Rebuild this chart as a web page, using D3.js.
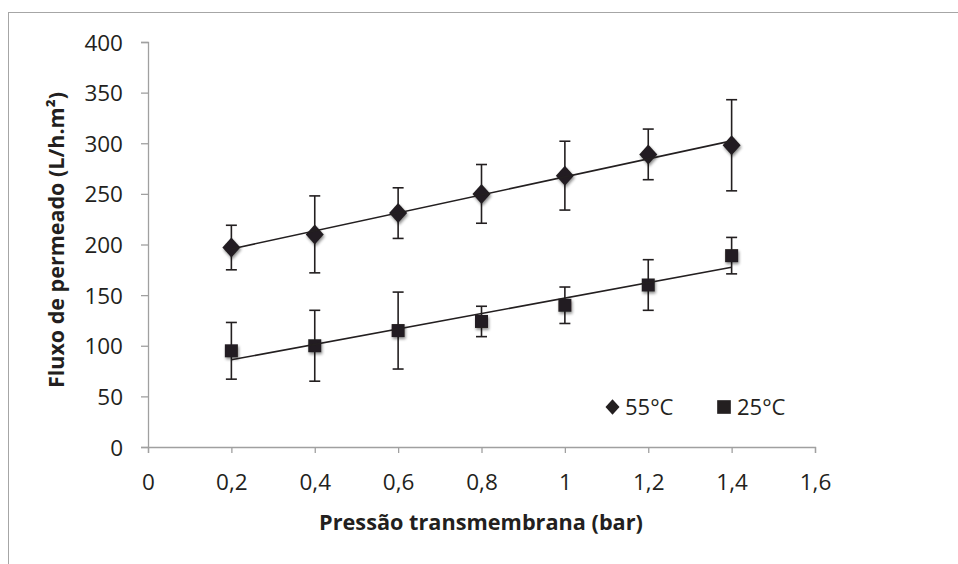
<!DOCTYPE html>
<html><head><meta charset="utf-8">
<script src="https://cdn.jsdelivr.net/npm/d3@7"></script>
<style>
html,body{margin:0;padding:0;background:#fff;}
svg{display:block;}
text{font-family:"Open Sans",sans-serif;fill:#231f20;}
</style></head>
<body>
<svg id="chart" width="958" height="564"></svg>
<script>
const pressures = [0.2, 0.4, 0.6, 0.8, 1.0, 1.2, 1.4];
const flux55 = [197, 210, 231, 250, 268, 289, 298];
const err55 = [22, 38, 25, 29, 34, 25, 45];
const flux25 = [95, 100, 115, 124, 140, 160, 189];
const err25 = [28, 35, 38, 15, 18, 25, 18];
const xTicks = [0, 0.2, 0.4, 0.6, 0.8, 1.0, 1.2, 1.4, 1.6];
const yTicks = [0, 50, 100, 150, 200, 250, 300, 350, 400];
const seriesNames = ["55°C", "25°C"];

const svg = d3.select("#chart");
const ink = "#231f20";
const axisColor = "#a0a0a0";

// outer frame (top and left visible)
svg.append("rect").attr("x", 8.5).attr("y", 12.5).attr("width", 1000).attr("height", 1000)
  .attr("fill", "none").attr("stroke", "#a6a6a6").attr("stroke-width", 1);

const defs = svg.append("defs");
const f = defs.append("filter").attr("id", "sh").attr("x", "-50%").attr("y", "-50%").attr("width", "200%").attr("height", "200%");
f.append("feGaussianBlur").attr("in", "SourceAlpha").attr("stdDeviation", 1.6).attr("result", "b");
f.append("feOffset").attr("in", "b").attr("dx", 1).attr("dy", 1.5).attr("result", "o");
f.append("feComponentTransfer").attr("in", "o").attr("result", "o2")
  .append("feFuncA").attr("type", "linear").attr("slope", 0.45);
const m = f.append("feMerge");
m.append("feMergeNode").attr("in", "o2");
m.append("feMergeNode").attr("in", "SourceGraphic");

const x = d3.scaleLinear().domain([0, 1.6]).range([148, 815]);
const y = d3.scaleLinear().domain([0, 400]).range([447, 42]);

const fmt = d => String(+d.toFixed(1)).replace(".", ",");

// axes
const gx = svg.append("g").attr("transform", `translate(0,${y(0)})`)
  .call(d3.axisBottom(x).tickValues(xTicks).tickSize(6).tickPadding(21).tickFormat(fmt));
const gy = svg.append("g").attr("transform", `translate(${x(0)},0)`)
  .call(d3.axisLeft(y).tickValues(yTicks).tickSize(7).tickPadding(18).tickFormat(d3.format("d")));
[gx, gy].forEach(g => {
  g.select(".domain").attr("stroke", axisColor).attr("stroke-width", 1.3);
  g.selectAll(".tick line").attr("stroke", axisColor).attr("stroke-width", 1.3);
  g.selectAll(".tick text").attr("font-family", "Open Sans").attr("font-size", 22.5).attr("fill", ink);
});
gy.selectAll(".tick text").attr("dy", "0.36em");

// axis titles
svg.append("text").attr("x", 481).attr("y", 530).attr("text-anchor", "middle")
  .attr("font-size", 21.7).attr("font-weight", "bold").text("Pressão transmembrana (bar)");
svg.append("text").attr("transform", "translate(64,240) rotate(-90)").attr("text-anchor", "middle")
  .attr("font-size", 21.5).attr("font-weight", "bold").text("Fluxo de permeado (L/h.m²)");

function fit(vals) {
  const mx = d3.mean(pressures), my = d3.mean(vals);
  let num = 0, den = 0;
  pressures.forEach((p, i) => { num += (p - mx) * (vals[i] - my); den += (p - mx) ** 2; });
  const b = num / den, a = my - b * mx;
  return p => a + b * p;
}

const series = [
  {name: seriesNames[0], vals: flux55, errs: err55, shape: "diamond"},
  {name: seriesNames[1], vals: flux25, errs: err25, shape: "square"}
];

function marker(g, shape, cx, cy, scale) {
  if (shape === "diamond") {
    const w = 9 * scale, h = 10 * scale;
    g.append("path").attr("d", `M${cx},${cy - h}L${cx + w},${cy}L${cx},${cy + h}L${cx - w},${cy}Z`).attr("fill", ink);
  } else {
    const s = 13 * scale;
    g.append("rect").attr("x", cx - s / 2).attr("y", cy - s / 2).attr("width", s).attr("height", s).attr("fill", ink);
  }
}

series.forEach(s => {
  const fn = fit(s.vals);
  const g = svg.append("g");
  pressures.forEach((p, i) => {
    const cx = x(p), top = y(s.vals[i] + s.errs[i]), bot = y(s.vals[i] - s.errs[i]);
    g.append("line").attr("x1", cx).attr("x2", cx).attr("y1", top).attr("y2", bot).attr("stroke", ink).attr("stroke-width", 1.6);
    [top, bot].forEach(yy => g.append("line").attr("x1", cx - 5.5).attr("x2", cx + 5.5).attr("y1", yy).attr("y2", yy)
      .attr("stroke", ink).attr("stroke-width", 1.6));
  });
  const mg = g.append("g").attr("filter", "url(#sh)");
  pressures.forEach((p, i) => marker(mg, s.shape, x(p), y(s.vals[i]), 1));
  const p0 = pressures[0], p1 = pressures[pressures.length - 1];
  g.append("line").attr("x1", x(p0)).attr("y1", y(fn(p0))).attr("x2", x(p1)).attr("y2", y(fn(p1)))
    .attr("stroke", ink).attr("stroke-width", 1.6);
});

// legend
const lg = svg.append("g");
marker(lg, "diamond", 612.5, 407, 0.78);
lg.append("text").attr("x", 625).attr("y", 415).attr("font-size", 22).text(seriesNames[0]);
marker(lg, "square", 724, 407, 1.05);
lg.append("text").attr("x", 737).attr("y", 415).attr("font-size", 22).text(seriesNames[1]);
</script>
</body></html>
